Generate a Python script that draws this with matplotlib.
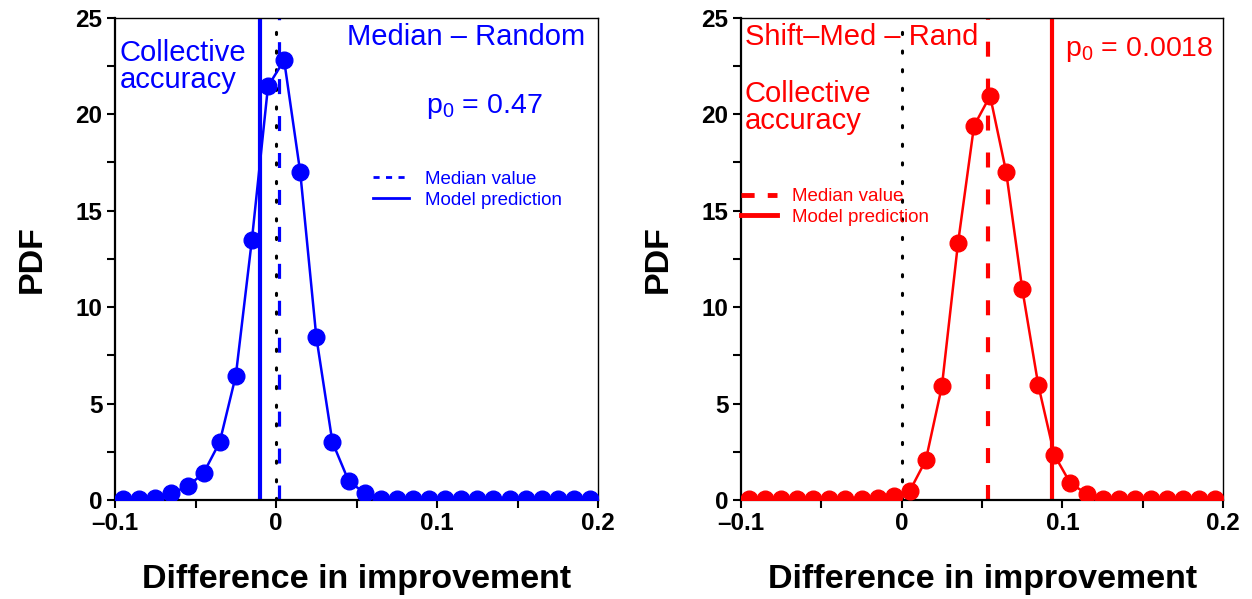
import matplotlib
matplotlib.use("Agg")
import matplotlib.pyplot as plt
from matplotlib.lines import Line2D
from matplotlib.ticker import MultipleLocator, FuncFormatter

plt.rcParams["font.family"] = ["Liberation Sans", "DejaVu Sans"]
plt.rcParams["mathtext.fontset"] = "custom"
plt.rcParams["mathtext.rm"] = "Liberation Sans"
plt.rcParams["mathtext.it"] = "Liberation Sans"

# bin centres
bins = [-0.095, -0.085, -0.075, -0.065, -0.055, -0.045, -0.035, -0.025, -0.015, -0.005,
        0.005, 0.015, 0.025, 0.035, 0.045, 0.055, 0.065, 0.075, 0.085, 0.095,
        0.105, 0.115, 0.125, 0.135, 0.145, 0.155, 0.165, 0.175, 0.185, 0.195]

# Median - Random
pdf_left = [0.05, 0.05, 0.1, 0.35, 0.7, 1.4, 3.0, 6.45, 13.5, 21.45,
            22.8, 17.0, 8.45, 3.0, 1.0, 0.35, 0.05, 0.05, 0.05, 0.05,
            0.05, 0.05, 0.05, 0.05, 0.05, 0.05, 0.05, 0.05, 0.05, 0.05]
median_left = 0.0016
model_left = -0.0099

# Shift-Med - Rand
pdf_right = [0.05, 0.05, 0.05, 0.05, 0.05, 0.05, 0.05, 0.05, 0.08, 0.2,
             0.47, 2.07, 5.9, 13.3, 19.4, 20.95, 17.0, 10.95, 5.95, 2.33,
             0.86, 0.33, 0.05, 0.05, 0.05, 0.05, 0.05, 0.05, 0.05, 0.05]
median_right = 0.0535
model_right = 0.0938

BLUE = "#0000ff"
RED = "#ff0000"


def fmt(v, pos):
    if abs(v) < 1e-9:
        return "0"
    s = "%g" % v
    return s.replace("-", "\u2013")


fig = plt.figure(figsize=(12.52, 5.99), dpi=100)
ax1 = fig.add_axes([0.0919, 0.1653, 0.3858, 0.805])
ax2 = fig.add_axes([0.5919, 0.1653, 0.385, 0.805])

for ax, pdf, med, mod, col, lwd in [(ax1, pdf_left, median_left, model_left, BLUE, 2.3),
                                    (ax2, pdf_right, median_right, model_right, RED, 3.0)]:
    ax.plot(bins, pdf, "-o", color=col, lw=1.8, ms=12, zorder=3)
    ax.axvline(mod, color=col, lw=3.0, zorder=2)
    ax.axvline(med, color=col, lw=lwd, ls=(0, (10.8 / lwd, 15.8 / lwd)), zorder=2)
    ax.axvline(0, color="black", lw=2.2, ls=(0, (0.7, 5.4)), dash_capstyle="round", zorder=2.5)
    ax.set_xlim(-0.1, 0.2)
    ax.set_ylim(0, 25)
    ax.xaxis.set_major_locator(MultipleLocator(0.1))
    ax.xaxis.set_minor_locator(MultipleLocator(0.05))
    ax.yaxis.set_major_locator(MultipleLocator(5))
    ax.yaxis.set_minor_locator(MultipleLocator(2.5))
    ax.xaxis.set_major_formatter(FuncFormatter(fmt))
    ax.tick_params(which="both", direction="out", length=6, width=1.5, labelsize=17.5, pad=3)
    for lab in ax.get_xticklabels() + ax.get_yticklabels():
        lab.set_fontweight("bold")
    ax.spines["left"].set_linewidth(1.6)
    ax.spines["bottom"].set_linewidth(1.6)
    ax.spines["top"].set_linewidth(1.0)
    ax.spines["right"].set_linewidth(1.0)
    ax.set_xlabel("Difference in improvement", fontsize=24.5, fontweight="bold")
    ax.set_ylabel("PDF", fontsize=24.5, fontweight="bold")
    ax.xaxis.set_label_coords(0.5, -0.133)
    ax.yaxis.set_label_coords(-0.14, 0.5)

# left panel texts
ax1.text(0.973, 0.99, "Median \u2013 Random", color=BLUE, fontsize=21,
         ha="right", va="top", transform=ax1.transAxes)
ax1.text(0.01, 0.955, "Collective\naccuracy", color=BLUE, fontsize=21,
         ha="left", va="top", linespacing=0.95, transform=ax1.transAxes)
ax1.text(0.764, 0.815, "p$_0$ = 0.47", color=BLUE, fontsize=20.5,
         ha="center", va="center", transform=ax1.transAxes)
h1 = [Line2D([], [], color=BLUE, lw=2, ls=(0, (2.2, 2.3))),
      Line2D([], [], color=BLUE, lw=2)]
ax1.legend(h1, ["Median value", "Model prediction"], loc="upper left",
           bbox_to_anchor=(0.534, 0.683), frameon=False, fontsize=13.5,
           handlelength=1.9, handletextpad=0.9, labelcolor=BLUE,
           borderpad=0, borderaxespad=0, labelspacing=0.2)

# right panel texts
ax2.text(0.008, 0.99, "Shift\u2013Med \u2013 Rand", color=RED, fontsize=21,
         ha="left", va="top", transform=ax2.transAxes)
ax2.text(0.008, 0.87, "Collective\naccuracy", color=RED, fontsize=21,
         ha="left", va="top", linespacing=0.95, transform=ax2.transAxes)
ax2.text(0.979, 0.934, "p$_0$ = 0.0018", color=RED, fontsize=20.5,
         ha="right", va="center", transform=ax2.transAxes)
h2 = [Line2D([], [], color=RED, lw=3.5, ls=(0, (2.7, 2.7))),
      Line2D([], [], color=RED, lw=3.5)]
ax2.legend(h2, ["Median value", "Model prediction"], loc="upper left",
           bbox_to_anchor=(0.0, 0.647), frameon=False, fontsize=13.5,
           handlelength=1.9, handletextpad=0.8, labelcolor=RED,
           borderpad=0, borderaxespad=0, labelspacing=0.2)

fig.savefig("out.png", dpi=100)
